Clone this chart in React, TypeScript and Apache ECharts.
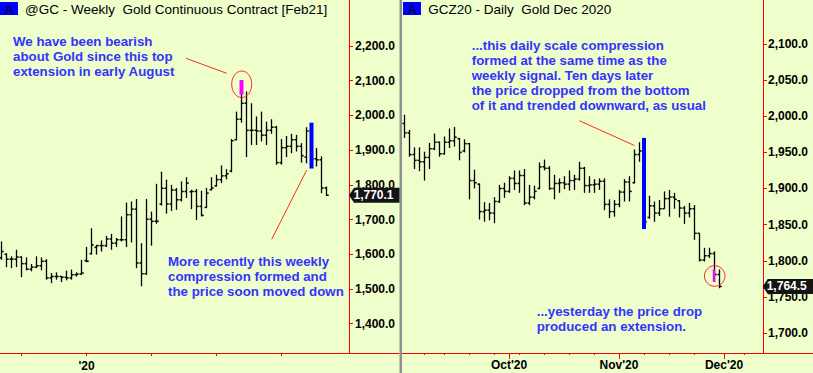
import React, { useEffect, useRef } from "react";
import * as echarts from "echarts";

// ---------- Weekly @GC (week index 0 = week of Sep 2, 2019) ----------
const weeklyOpen = [1590,1600,1586,1586,1592,1573,1557,1563,1567,1580,1532,1536,1536,1534,1532,1541,1543,1582,1602,1620,1625,1625,1644,1632,1642,1642,1714,1730,1575,1544,1701,1695,1745,1790,1745,1785,1757,1781,1780,1781,1738,1735,1786,1797,1815,1826,1840,1930,1989,2035,1957,1957,1955,1943,1957,1966,1864,1907,1911,1930,1911,1880,1955,1875,1872,1791];
const weeklyHigh = [1637,1603,1594,1613,1594,1591,1572,1594,1591,1586,1546,1548,1538,1553,1556,1548,1584,1621,1675,1627,1640,1653,1659,1647,1709,1749,1752,1759,1632,1759,1723,1803,1838,1815,1800,1791,1810,1822,1786,1788,1783,1791,1822,1829,1856,1845,1932,2011,2100,2069,2035,1997,2011,1982,1989,1970,1932,1941,1947,1944,1920,1966,1972,1906,1882,1795];
const weeklyLow = [1584,1563,1560,1563,1534,1554,1551,1560,1554,1527,1517,1527,1520,1525,1527,1536,1541,1577,1599,1599,1608,1621,1613,1621,1637,1621,1634,1560,1508,1541,1625,1688,1740,1717,1725,1728,1752,1762,1730,1699,1709,1733,1784,1795,1805,1816,1836,1928,1979,1880,1915,1915,1925,1915,1947,1858,1858,1880,1891,1896,1864,1862,1850,1853,1776,1768];
const weeklyClose = [1608,1586,1586,1592,1573,1557,1563,1567,1580,1532,1536,1536,1534,1532,1541,1543,1546,1580,1627,1625,1625,1644,1632,1642,1642,1714,1730,1575,1544,1701,1695,1695,1790,1745,1785,1757,1781,1805,1781,1738,1712,1776,1791,1815,1826,1832,1927,1989,2035,1957,1957,1955,1943,1957,1966,1864,1907,1911,1930,1911,1884,1955,1875,1872,1791,1770.1];
const weeklyQuarterTicks = [4, 17, 30, 43, 56];
const weeklyLabelTicks = [17];
const weeklyLabelNames = ["'20"];
const weeklyPriceTicks = [1400, 1500, 1600, 1700, 1800, 1900, 2000, 2100, 2200];
const weeklyExtension = [[48, 2060, 2102]];
const weeklyCompression = [[62, 1847, 1979]];
const weeklyLast = 1770.1;

// ---------- Daily GCZ20 (day index 0 = Sep 1, 2020) ----------
const dailyOpen = [1990,1977,1947,1939,1937,1943,1955,1964,1948,1964,1966,1969,1952,1962,1911,1906,1868,1870,1866,1882,1900,1896,1914,1907,1918,1880,1888,1900,1930,1928,1900,1907,1908,1906,1911,1913,1928,1904,1905,1906,1910,1878,1868,1878,1895,1909,1908,1947,1952,1860,1876,1866,1872,1886,1888,1883,1873,1866,1872,1838,1801,1807,1810,1781];
const dailyHigh = [2002,1981,1957,1957,1951,1963,1976,1965,1972,1983,1985,1970,1968,1963,1926,1907,1881,1880,1888,1905,1908,1917,1925,1925,1927,1905,1904,1936,1940,1931,1919,1914,1917,1925,1919,1937,1930,1917,1913,1914,1914,1885,1884,1898,1913,1917,1954,1964,1966,1890,1882,1884,1896,1898,1894,1884,1876,1880,1877,1838,1818,1818,1813,1788];
const dailyLow = [1970,1944,1927,1924,1911,1927,1953,1944,1947,1956,1958,1939,1950,1885,1900,1857,1854,1856,1852,1880,1887,1894,1898,1894,1877,1877,1885,1899,1925,1898,1885,1894,1899,1897,1898,1911,1894,1894,1894,1898,1870,1859,1861,1874,1882,1882,1907,1937,1850,1858,1854,1862,1872,1861,1872,1860,1851,1860,1829,1799,1799,1804,1771,1762];
const dailyClose = [1977,1947,1939,1937,1943,1955,1964,1948,1964,1966,1971,1950,1962,1911,1908,1868,1870,1866,1882,1900,1896,1914,1907,1918,1880,1888,1896,1930,1928,1900,1907,1908,1906,1911,1913,1928,1904,1905,1906,1910,1878,1868,1878,1895,1909,1896,1947,1952,1854,1876,1866,1872,1886,1888,1885,1873,1866,1872,1838,1801,1807,1810,1781,1764.5];
const dailyWeekTicks = [4, 8, 13, 18, 23, 28, 33, 38, 48, 53, 58, 68];
const dailyMonthTicks = [21, 43, 64];
const dailyMonthNames = ["Oct'20", "Nov'20", "Dec'20"];
const dailyPriceTicks = [1700, 1750, 1800, 1850, 1900, 1950, 2000, 2050, 2100];
const dailyCompression = [[48, 1844, 1970]];
const dailyExtension = [[62, 1771, 1788]];
const dailyLast = 1764.5;

const FONT = '"Liberation Sans", Arial, sans-serif';
const RED = "#ff0000";
const BG = "#eeffcc";
const BLUE_TXT = "#3333ff";

function fmtPrice(v: number) {
  const s = v.toFixed(1);
  const [ip, dp] = s.split(".");
  return ip.replace(/\B(?=(\d{3})+(?!\d))/g, ",") + "." + dp;
}

function ohlcRender(params: any, api: any) {
  const x = api.value(0);
  const pO = api.coord([x, api.value(1)]);
  const pH = api.coord([x, api.value(2)]);
  const pL = api.coord([x, api.value(3)]);
  const pC = api.coord([x, api.value(4)]);
  const cx = Math.round(pH[0] - 0.5) + 0.5;
  const st = { stroke: "#000", lineWidth: 1.3 };
  return {
    type: "group",
    children: [
      { type: "line", shape: { x1: cx, y1: pH[1], x2: cx, y2: pL[1] }, style: st },
      { type: "line", shape: { x1: cx - 2, y1: pO[1], x2: cx, y2: pO[1] }, style: { stroke: "#000", lineWidth: 1.5 } },
      { type: "line", shape: { x1: cx, y1: pC[1], x2: cx + 2.2, y2: pC[1] }, style: { stroke: "#000", lineWidth: 1.5 } },
    ],
  };
}

function markerRender(width: number, color: string) {
  return (params: any, api: any) => {
    const x = api.value(0);
    const lo = api.coord([x, api.value(1)]);
    const hi = api.coord([x, api.value(2)]);
    return {
      type: "rect",
      shape: { x: lo[0] - width / 2, y: hi[1], width, height: lo[1] - hi[1] },
      style: { fill: color },
    };
  };
}

const axisFont = { fontFamily: FONT, fontSize: 12, fontWeight: "bold" as const, color: "#000" };

export default function App() {
  const ref = useRef<HTMLDivElement>(null);
  useEffect(() => {
    if (!ref.current) return;
    const chart = echarts.init(ref.current, undefined, { renderer: "svg" });
    const weeklyData = weeklyOpen.map((o, i) => [i, o, weeklyHigh[i], weeklyLow[i], weeklyClose[i]]);
    const dailyData = dailyOpen.map((o, i) => [i, o, dailyHigh[i], dailyLow[i], dailyClose[i]]);

    const yAxisCommon = (min: number, max: number, ticks: number[], grid: number, margin: number) => ({
      gridIndex: grid,
      type: "value",
      position: "right",
      min,
      max,
      splitLine: { show: false },
      axisLine: { show: true, onZero: false, lineStyle: { color: RED, width: 1 } },
      axisTick: { show: true, customValues: ticks, length: 4, lineStyle: { color: RED } },
      axisLabel: { customValues: ticks, formatter: (v: number) => fmtPrice(v), margin, ...axisFont },
    });

    chart.setOption({
      animation: false,
      backgroundColor: BG,
      grid: [
        { left: 0, top: 0, width: 349, height: 353 },
        { left: 402, top: 0, width: 361, height: 353 },
        { left: 402, top: 0, width: 361, height: 353 },
      ],
      xAxis: [
        {
          gridIndex: 0, type: "value", min: -0.3, max: 69.5,
          splitLine: { show: false },
          axisLine: { show: true, onZero: false, lineStyle: { color: RED } },
          axisTick: { show: true, customValues: weeklyQuarterTicks, length: 3, lineStyle: { color: RED } },
          axisLabel: {
            customValues: weeklyLabelTicks,
            formatter: (v: number) => weeklyLabelNames[weeklyLabelTicks.indexOf(Math.round(v))] ?? "",
            margin: 7, ...axisFont,
          },
        },
        {
          gridIndex: 1, type: "value", min: -0.4, max: 71.8,
          splitLine: { show: false },
          axisLine: { show: true, onZero: false, lineStyle: { color: RED } },
          axisTick: { show: true, customValues: dailyWeekTicks, length: 2, lineStyle: { color: RED } },
          axisLabel: { show: false },
        },
        {
          gridIndex: 2, type: "value", min: -0.4, max: 71.8,
          splitLine: { show: false },
          axisLine: { show: false, onZero: false },
          axisTick: { show: true, customValues: dailyMonthTicks, length: 6, lineStyle: { color: RED } },
          axisLabel: {
            customValues: dailyMonthTicks,
            formatter: (v: number) => dailyMonthNames[dailyMonthTicks.indexOf(Math.round(v))] ?? "",
            margin: 6, ...axisFont,
          },
        },
      ],
      yAxis: [
        yAxisCommon(1315.7, 2332.4, weeklyPriceTicks, 0, 6),
        yAxisCommon(1672.4, 2160.8, dailyPriceTicks, 1, 5),
        { gridIndex: 2, type: "value", show: false, min: 1672.4, max: 2160.8 },
      ],
      series: [
        {
          type: "custom", xAxisIndex: 0, yAxisIndex: 0, renderItem: ohlcRender,
          encode: { x: 0, y: [1, 2, 3, 4] }, data: weeklyData, silent: true,
        },
        {
          type: "custom", xAxisIndex: 0, yAxisIndex: 0, renderItem: markerRender(4, "#ff00ff"),
          encode: { x: 0, y: [1, 2] }, data: weeklyExtension, silent: true, z: 3,
        },
        {
          type: "custom", xAxisIndex: 0, yAxisIndex: 0, renderItem: markerRender(4, "#0000ff"),
          encode: { x: 0, y: [1, 2] }, data: weeklyCompression, silent: true, z: 3,
        },
        {
          type: "custom", xAxisIndex: 1, yAxisIndex: 1, renderItem: ohlcRender,
          encode: { x: 0, y: [1, 2, 3, 4] }, data: dailyData, silent: true,
        },
        {
          type: "custom", xAxisIndex: 1, yAxisIndex: 1, renderItem: markerRender(4, "#0000ff"),
          encode: { x: 0, y: [1, 2] }, data: dailyCompression, silent: true, z: 3,
        },
        {
          type: "custom", xAxisIndex: 1, yAxisIndex: 1, renderItem: markerRender(2.5, "#ff00ff"),
          encode: { x: 0, y: [1, 2] }, data: dailyExtension, silent: true, z: 3,
        },
        { type: "line", xAxisIndex: 2, yAxisIndex: 2, data: [], silent: true },
      ],
    });

    const p0 = chart.convertToPixel({ xAxisIndex: 0, yAxisIndex: 0 } as any, [weeklyOpen.length - 1, weeklyLast]) as number[];
    const p1 = chart.convertToPixel({ xAxisIndex: 1, yAxisIndex: 1 } as any, [dailyOpen.length - 1, dailyLast]) as number[];
    const y0 = p0[1];
    const y1 = p1[1];

    const annFont = { fontFamily: FONT, fontSize: 13.3, fontWeight: "bold", fill: BLUE_TXT, lineHeight: 15 };
    const titleFont = { fontFamily: FONT, fontSize: 13.5, fill: "#000" };
    const redLine = { stroke: "#ff2a2a", lineWidth: 1 };

    chart.setOption({
      graphic: [
        { type: "rect", shape: { x: 399.5, y: 0, width: 2.5, height: 373 }, style: { fill: "#8f8f8f" }, z: 50 },
        { type: "line", shape: { x1: 349, y1: 353.5, x2: 399.5, y2: 353.5 }, style: { stroke: RED, lineWidth: 1 } },
        { type: "line", shape: { x1: 763, y1: 353.5, x2: 813, y2: 353.5 }, style: { stroke: RED, lineWidth: 1 } },
        // titles
        { type: "rect", shape: { x: 0, y: 2, width: 18, height: 13 }, style: { fill: "#0000ff" } },
        { type: "text", x: 9, y: 9, style: { text: "A", ...titleFont, fontSize: 13, align: "center", verticalAlign: "middle" } },
        { type: "text", x: 25, y: 9, style: { text: "@GC - Weekly  Gold Continuous Contract [Feb21]", ...titleFont, verticalAlign: "middle" } },
        { type: "rect", shape: { x: 403, y: 2, width: 18, height: 13 }, style: { fill: "#0000ff" }, z: 60 },
        { type: "text", x: 412, y: 9, z: 61, style: { text: "A", ...titleFont, fontSize: 13, align: "center", verticalAlign: "middle" } },
        { type: "text", x: 428.3, y: 9, style: { text: "GCZ20 - Daily  Gold Dec 2020", ...titleFont, verticalAlign: "middle" } },
        // annotations
        { type: "text", x: 13, y: 34.2, style: { text: "We have been bearish\nabout Gold since this top\nextension in early August", ...annFont } },
        { type: "text", x: 168, y: 254.2, style: { text: "More recently this weekly\ncompression formed and\nthe price soon moved down", ...annFont } },
        { type: "text", x: 471.7, y: 38.2, style: { text: "...this daily scale compression\nformed at the same time as the\nweekly signal. Ten days later\nthe price dropped from the bottom\nof it and trended downward, as usual", ...annFont } },
        { type: "text", x: 536.7, y: 303.5, style: { text: "...yesterday the price drop\nproduced an extension.", ...annFont } },
        { type: "line", shape: { x1: 186, y1: 58.3, x2: 226.7, y2: 73.3 }, style: redLine },
        { type: "line", shape: { x1: 271.7, y1: 239.3, x2: 306.7, y2: 170 }, style: redLine },
        { type: "line", shape: { x1: 579.3, y1: 120.7, x2: 634.5, y2: 145.5 }, style: redLine },
        { type: "ellipse", shape: { cx: 241.7, cy: 84.3, rx: 10, ry: 13.3 }, style: { fill: "none", stroke: "#ff2a2a", lineWidth: 1 }, z: 10 },
        { type: "circle", shape: { cx: 714.7, cy: 276, r: 10.3 }, style: { fill: "none", stroke: "#ff2a2a", lineWidth: 1 }, z: 10 },
        // last price tags
        { type: "polygon", z: 100, shape: { points: [[349, y0], [354, y0 - 7.5], [399.5, y0 - 7.5], [399.5, y0 + 7.5], [354, y0 + 7.5]] }, style: { fill: "#141414" } },
        { type: "text", z: 101, x: 353.5, y: y0, style: { text: fmtPrice(weeklyLast), fontFamily: FONT, fontSize: 12, fontWeight: "bold", fill: "#fff", verticalAlign: "middle" } },
        { type: "polygon", z: 100, shape: { points: [[762.7, y1], [767.7, y1 - 7.5], [813, y1 - 7.5], [813, y1 + 7.5], [767.7, y1 + 7.5]] }, style: { fill: "#141414" } },
        { type: "text", z: 101, x: 766.7, y: y1, style: { text: fmtPrice(dailyLast), fontFamily: FONT, fontSize: 12, fontWeight: "bold", fill: "#fff", verticalAlign: "middle" } },
      ],
    });

    return () => chart.dispose();
  }, []);
  return (
    <div
      ref={ref}
      style={{ position: "absolute", left: 0, top: 0, width: 813, height: 373, background: BG }}
    />
  );
}
